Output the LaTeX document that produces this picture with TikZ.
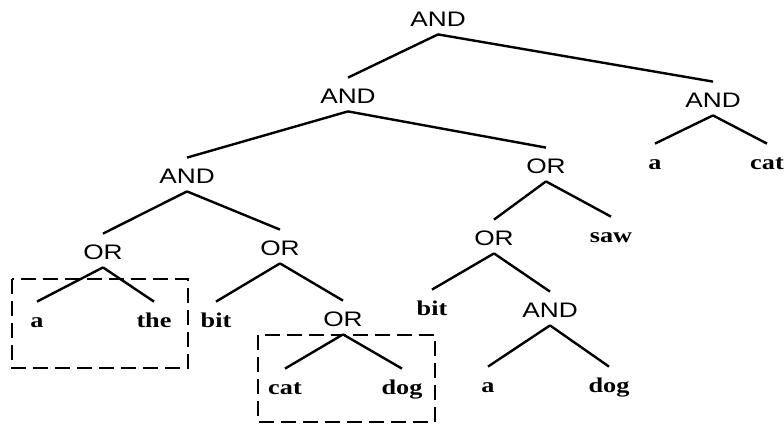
\documentclass[tikz,border=0pt]{standalone}
\usepackage{fontspec}
\newfontfamily\gatefont[FakeStretch=1.25]{Liberation Sans}
\newfontfamily\wordfont[FakeStretch=1.25]{Liberation Serif}

\tikzset{
  gate/.style={font=\gatefont\fontsize{10.5}{12}\selectfont, anchor=base, text height=8.5pt, text depth=0pt, inner xsep=0pt, inner ysep=4pt},
  word/.style={font=\wordfont\bfseries\fontsize{10.5}{12}\selectfont, anchor=base, text height=8.5pt, text depth=0pt, inner xsep=0pt, inner ysep=4pt},
  branch/.style={line width=1.2pt},
  group/.style={line width=1.2pt, dash pattern=on 7.5pt off 3.5pt}
}

\begin{document}
\begin{tikzpicture}[x=0.5pt, y=-0.5pt]
    \useasboundingbox (0, 0) rectangle (784, 425);

    \node[gate] (root) at (438, 26){AND};
    \node[gate] (and2) at (348, 103){AND};
    \node[gate] (andR) at (713, 107){AND};
    \node[word] (aR) at (655, 169){a};
    \node[word] (catR) at (767, 169){cat};
    \node[gate] (and3) at (187, 183){AND};
    \node[gate] (orM) at (546, 173){OR};
    \node[gate] (orL) at (103, 259){OR};
    \node[gate] (orC) at (280, 255){OR};
    \node[gate] (orI) at (494, 245){OR};
    \node[word] (saw) at (611, 242){saw};
    \node[word] (aL) at (37, 327){a};
    \node[word] (theL) at (154, 327){the};
    \node[word] (bitC) at (216, 327){bit};
    \node[gate] (orLow) at (343, 326){OR};
    \node[word] (catLow) at (285, 394){cat};
    \node[word] (dogLow) at (402, 394){dog};
    \node[word] (bitI) at (432, 315){bit};
    \node[gate] (andLow) at (550, 317){AND};
    \node[word] (aLow) at (488, 392){a};
    \node[word] (dogI) at (609, 392){dog};

    \draw[branch](root.south)--(and2.north);
    \draw[branch](root.south)--(andR.north);
    \draw[branch](andR.south)--(aR.north);
    \draw[branch](andR.south)--(catR.north);
    \draw[branch](and2.south)--(and3.north);
    \draw[branch](and2.south)--(orM.north);
    \draw[branch](and3.south)--(orL.north);
    \draw[branch](and3.south)--(orC.north);
    \draw[branch](orL.south)--(aL.north);
    \draw[branch](orL.south)--(theL.north);
    \draw[branch](orC.south)--(bitC.north);
    \draw[branch](orC.south)--(orLow.north);
    \draw[branch](orLow.south)--(catLow.north);
    \draw[branch](orLow.south)--(dogLow.north);
    \draw[branch](orM.south)--(orI.north);
    \draw[branch](orM.south)--(saw.north);
    \draw[branch](orI.south)--(bitI.north);
    \draw[branch](orI.south)--(andLow.north);
    \draw[branch](andLow.south)--(aLow.north);
    \draw[branch](andLow.south)--(dogI.north);

    \draw[group](12, 279) rectangle (188, 368);
    \draw[group](258, 335) rectangle (435, 422);
  \end{tikzpicture}
\end{document}
